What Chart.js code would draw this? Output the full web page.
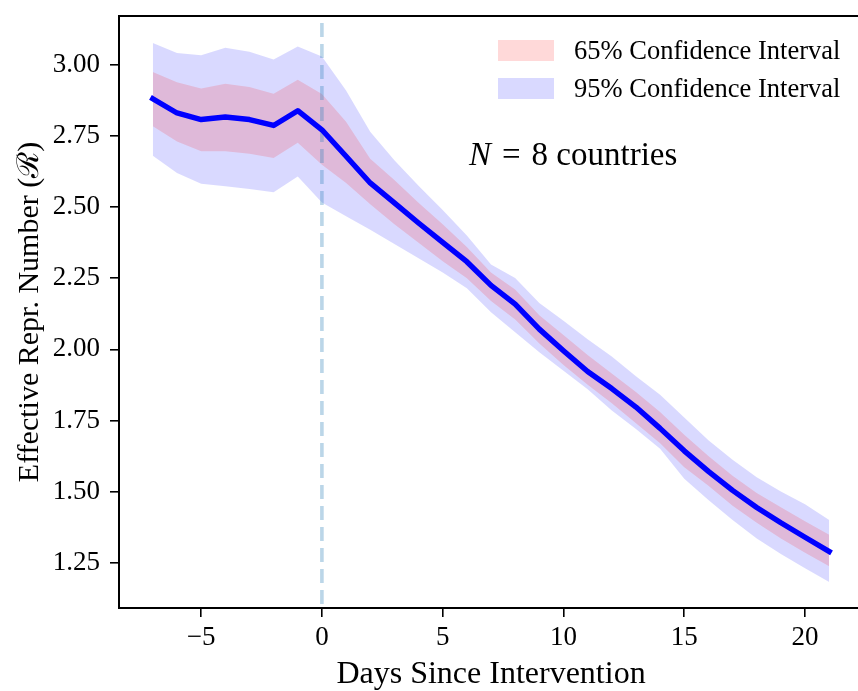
<!DOCTYPE html>
<html>
<head>
<meta charset="utf-8">
<script src="https://cdn.jsdelivr.net/npm/chart.js@4/dist/chart.umd.min.js"></script>
<style>
  html, body { margin: 0; padding: 0; background: #fff; overflow: hidden; }
  canvas { display: block; }
</style>
</head>
<body>
<canvas id="c" width="880" height="691" style="width:880px;height:691px"></canvas>
<script>
// ---------------- data ----------------
const days = [-7,-6,-5,-4,-3,-2,-1,0,1,2,3,4,5,6,7,8,9,10,11,12,13,14,15,16,17,18,19,20,21];
const rMean = [2.881,2.831,2.808,2.817,2.808,2.787,2.839,2.772,2.679,2.585,2.515,2.444,2.376,2.308,2.225,2.159,2.071,1.995,1.922,1.862,1.797,1.722,1.643,1.571,1.504,1.444,1.390,1.339,1.289];
const ci95Upper = [3.077,3.042,3.034,3.060,3.046,3.019,3.065,3.030,2.910,2.765,2.665,2.575,2.490,2.400,2.298,2.251,2.163,2.100,2.035,1.975,1.905,1.840,1.760,1.680,1.612,1.550,1.500,1.455,1.400];
const ci95Lower = [2.681,2.620,2.582,2.573,2.564,2.552,2.608,2.516,2.468,2.420,2.370,2.320,2.270,2.215,2.130,2.060,1.990,1.925,1.860,1.785,1.720,1.650,1.545,1.470,1.400,1.335,1.280,1.230,1.182];
const ci65Upper = [2.975,2.939,2.917,2.934,2.922,2.899,2.948,2.898,2.800,2.670,2.595,2.515,2.440,2.360,2.270,2.210,2.120,2.050,1.980,1.915,1.850,1.780,1.700,1.625,1.555,1.495,1.445,1.395,1.348];
const ci65Lower = [2.784,2.731,2.696,2.696,2.688,2.673,2.726,2.649,2.585,2.510,2.440,2.375,2.310,2.250,2.170,2.105,2.020,1.945,1.875,1.810,1.740,1.670,1.585,1.520,1.450,1.390,1.335,1.285,1.237];
const xTicks = [-5,0,5,10,15,20];
const yTicks = [1.25,1.50,1.75,2.00,2.25,2.50,2.75,3.00];
const legendLabels = ['65% Confidence Interval','95% Confidence Interval'];
const interventionDay = 0;
const nCountries = 8;
const xTitle = 'Days Since Intervention';
const yTitle = 'Effective Repr. Number (\u211B)';

// ---------------- styles ----------------
const FONT = '"Liberation Serif", "Times New Roman", serif';
const col65 = 'rgba(255,0,0,0.15)';
const col95 = 'rgba(0,0,255,0.15)';
const pts = arr => days.map((d,i) => ({x: d, y: arr[i]}));

const frame = {
  id: 'frame',
  afterDatasetDraw(chart, args) {
    if (args.index !== 1) return;
    const {ctx, chartArea: a, scales: {x}} = chart;
    const px = x.getPixelForValue(interventionDay);
    ctx.save();
    ctx.strokeStyle = 'rgba(31,119,180,0.3)';
    ctx.lineWidth = 3.6;
    ctx.setLineDash([14, 7]);
    ctx.lineDashOffset = -7;
    ctx.beginPath();
    ctx.moveTo(px, a.top);
    ctx.lineTo(px, a.bottom);
    ctx.stroke();
    ctx.restore();
  },
  afterDraw(chart) {
    const {ctx, chartArea: a} = chart;
    ctx.save();
    ctx.strokeStyle = '#000';
    ctx.lineWidth = 2;
    ctx.beginPath();
    ctx.moveTo(a.right + 1, a.top);
    ctx.lineTo(a.left, a.top);
    ctx.lineTo(a.left, a.bottom);
    ctx.lineTo(a.right + 1, a.bottom);
    ctx.stroke();
    // legend
    const cols = [col65, col95];
    ctx.font = '26.5px ' + FONT;
    ctx.textBaseline = 'middle';
    for (let i = 0; i < legendLabels.length; i++) {
      const y0 = 40 + i * 38;
      ctx.fillStyle = cols[i];
      ctx.fillRect(498, y0, 56, 21);
      ctx.fillStyle = '#000';
      ctx.fillText(legendLabels[i], 574, y0 + 12);
    }
    // annotation
    ctx.textBaseline = 'alphabetic';
    ctx.font = 'italic 33px ' + FONT;
    ctx.fillText('N', 469, 165);
    let xx = 469 + ctx.measureText('N').width + 11;
    ctx.font = '33px ' + FONT;
    ctx.fillText('=', xx, 165);
    xx += ctx.measureText('=').width + 11;
    ctx.fillText(nCountries + ' countries', xx, 165);
    ctx.restore();
  }
};

new Chart(document.getElementById('c'), {
  type: 'line',
  data: {
    datasets: [
      { label: 'mean', data: pts(rMean), borderColor: '#0000ff', borderWidth: 5.4,
        borderCapStyle: 'square', borderJoinStyle: 'round', pointRadius: 0, fill: false, order: 0 },
      { label: legendLabels[0], data: pts(ci65Upper), borderWidth: 0, pointRadius: 0,
        backgroundColor: col65, fill: '+1', order: 1 },
      { label: 'l65', data: pts(ci65Lower), borderWidth: 0, pointRadius: 0, fill: false, order: 2 },
      { label: legendLabels[1], data: pts(ci95Upper), borderWidth: 0, pointRadius: 0,
        backgroundColor: col95, fill: '+1', order: 3 },
      { label: 'l95', data: pts(ci95Lower), borderWidth: 0, pointRadius: 0, fill: false, order: 4 }
    ]
  },
  plugins: [frame],
  options: {
    responsive: false,
    animation: false,
    events: [],
    devicePixelRatio: 1,
    layout: { padding: { top: 16, right: 17, bottom: 0, left: 0 } },
    plugins: { legend: { display: false }, tooltip: { enabled: false } },
    elements: { line: { tension: 0 } },
    scales: {
      x: {
        type: 'linear', min: -8.4, max: 22.4,
        afterBuildTicks: s => { s.ticks = xTicks.map(v => ({value: v})); },
        afterFit: s => { s.height = 83; s.paddingLeft = 0; s.paddingRight = 0; },
        border: { display: false },
        grid: { drawOnChartArea: false, drawTicks: true, tickLength: 9, color: '#000', lineWidth: 1.6 },
        ticks: { color: '#000', padding: 5, font: { family: FONT, size: 27 },
          callback: v => (v < 0 ? '\u2212' + Math.abs(v) : String(v)) },
        title: { display: true, text: xTitle, color: '#000', font: { family: FONT, size: 32, lineHeight: 1.0 }, padding: { top: 0, bottom: 0 } }
      },
      y: {
        type: 'linear', min: 1.0904, max: 3.172,
        afterBuildTicks: s => { s.ticks = yTicks.map(v => ({value: v})); },
        afterFit: s => { s.width = 119; s.paddingTop = 0; s.paddingBottom = 0; },
        border: { display: false },
        grid: { drawOnChartArea: false, drawTicks: true, tickLength: 9, color: '#000', lineWidth: 1.6 },
        ticks: { color: '#000', padding: 10, font: { family: FONT, size: 27 },
          callback: v => Number(v).toFixed(2) },
        title: { display: true, text: yTitle, color: '#000', font: { family: FONT, size: 30, lineHeight: 1.0 }, padding: { top: 15, bottom: 0 } }
      }
    }
  }
});
</script>
</body>
</html>
